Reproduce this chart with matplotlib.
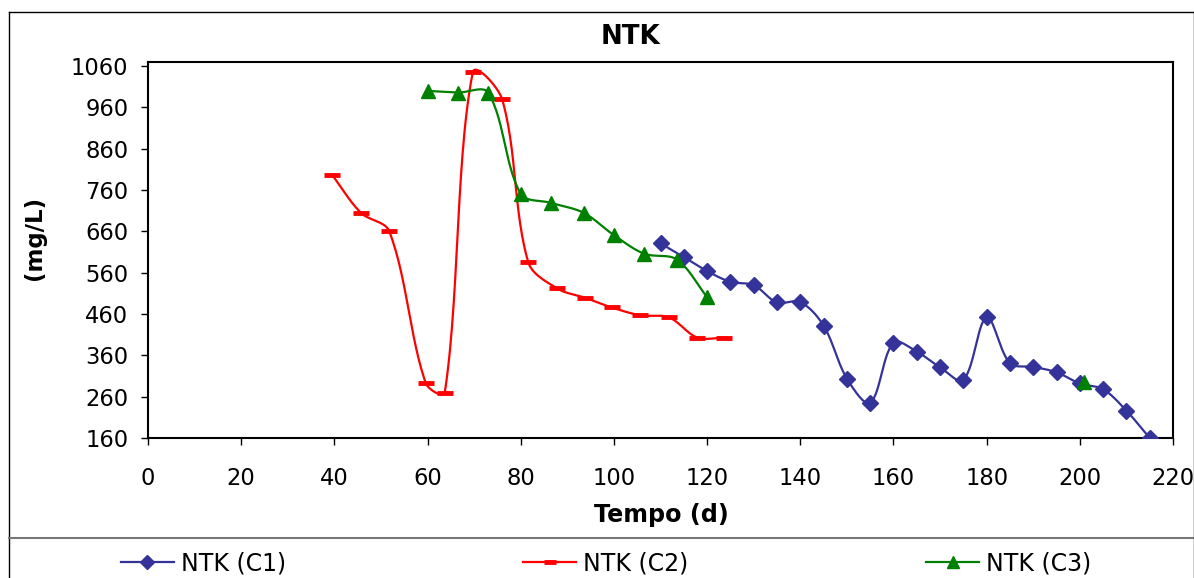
import matplotlib
matplotlib.use("Agg")
import matplotlib.pyplot as plt
from matplotlib.lines import Line2D
import numpy as np

# NTK values (day, mg/L)
c1_x = [110, 115, 120, 125, 130, 135, 140, 145, 150, 155, 160, 165, 170, 175,
        180, 185, 190, 195, 200, 205, 210, 215]
c1_y = [631, 598, 564, 538, 530, 488, 489, 432, 304, 245, 391, 369, 331, 300,
        452, 341, 332, 319, 292, 278, 226, 160]

c2_x = [39.5, 45.7, 51.8, 59.6, 63.7, 69.7, 76, 81.6, 87.8, 93.9, 99.5, 105.7,
        111.8, 117.9, 123.7]
c2_y = [797, 705, 660, 293, 270, 1045, 980, 586, 522, 499, 476, 457, 452, 403, 403]

# C3 has a gap (no line) between day 120 and day 201
c3_x = [60, 66.5, 73, 80, 86.5, 93.5, 100, 106.5, 113.5, 120, 160, 201]
c3_y = [1000, 996, 996, 751, 729, 705, 651, 606, 592, 501, np.nan, 295]

y_ticks = [160, 260, 360, 460, 560, 660, 760, 860, 960, 1060]
x_ticks = list(range(0, 221, 20))

W, H = 1194, 578
X0, X1, Y0, Y1 = 148, 1173, 62, 438   # plot area in pixels
XMAX, YMIN, YMAX = 220, 160, 1070
SX = (X1 - X0) / XMAX
SY = (Y1 - Y0) / (YMAX - YMIN)


def smooth(x, y, n=30):
    # Bezier smoothing like Excel: tangents scaled by chord lengths (in pixels)
    p = np.column_stack([np.asarray(x, float) * SX, np.asarray(y, float) * SY])
    m = len(p)
    if m < 2:
        return p[:, 0] / SX, p[:, 1] / SY
    ext = np.vstack([p[0], p, p[-1]])
    L = np.linalg.norm(np.diff(ext, axis=0), axis=1)   # len m+1
    T = ext[2:] - ext[:-2]                               # tangent per point
    t = np.linspace(0, 1, n)[:, None]
    out = []
    for i in range(m - 1):
        a, b = p[i], p[i + 1]
        la, lb, lc = L[i], L[i + 1], L[i + 2]
        c1 = a + T[i] * lb / (la + lb) / 3.0
        c2 = b - T[i + 1] * lb / (lb + lc) / 3.0
        seg = ((1 - t) ** 3) * a + 3 * ((1 - t) ** 2) * t * c1 + 3 * (1 - t) * t ** 2 * c2 + t ** 3 * b
        out.append(seg if i == 0 else seg[1:])
    out = np.vstack(out)
    return out[:, 0] / SX, out[:, 1] / SY


def draw(ax, x, y, color, marker, ms, mew=1):
    x = np.asarray(x, float)
    y = np.asarray(y, float)
    ok = ~np.isnan(y)
    runs, cur = [], []
    for i in range(len(x)):
        if ok[i]:
            cur.append(i)
        elif cur:
            runs.append(cur)
            cur = []
    if cur:
        runs.append(cur)
    for r in runs:
        sx, sy = smooth(x[r], y[r] - YMIN)
        ax.plot(sx, sy + YMIN, color=color, lw=1.6, zorder=2)
    ax.plot(x[ok], y[ok], ls='none', marker=marker, ms=ms, color=color,
            mec=color, mew=mew, zorder=3)


plt.rcParams['font.family'] = ['DejaVu Sans']
fig = plt.figure(figsize=(11.94, 5.78), dpi=100)
ax = fig.add_axes([X0 / W, 1 - Y1 / H, (X1 - X0) / W, (Y1 - Y0) / H])

draw(ax, c1_x, c1_y, '#333399', 'D', 8.5)
draw(ax, c2_x, c2_y, '#FF0000', '_', 11, mew=3.5)
draw(ax, c3_x, c3_y, '#008000', '^', 10)

ax.set_xlim(0, XMAX)
ax.set_ylim(YMIN, YMAX)
ax.set_xticks(x_ticks)
ax.set_yticks(y_ticks)
ax.tick_params(labelsize=16.3, length=5, width=1, direction='out')
ax.tick_params(axis='x', pad=16)
ax.tick_params(axis='y', pad=9)
for s in ax.spines.values():
    s.set_linewidth(1.5)
    s.set_color('black')

fig.text(630.5 / W, 1 - 37 / H, 'NTK', ha='center', va='center',
         fontsize=18.8, fontweight='bold')
fig.text(661 / W, 1 - 515 / H, 'Tempo (d)', ha='center', va='center',
         fontsize=17.2, fontweight='bold')
fig.text(34 / W, 1 - 238 / H, '(mg/L)', ha='center', va='center',
         rotation=90, fontsize=16.5, fontweight='bold')

# outer chart border and legend separator
fig.add_artist(Line2D([9 / W, 9 / W], [0, 1 - 12 / H], transform=fig.transFigure,
                      color='black', lw=1))
fig.add_artist(Line2D([9 / W, 1], [1 - 12 / H, 1 - 12 / H], transform=fig.transFigure,
                      color='black', lw=1))
fig.add_artist(Line2D([1193.5 / W, 1193.5 / W], [0, 1 - 12 / H], transform=fig.transFigure,
                      color='black', lw=1))
fig.add_artist(Line2D([9 / W, 1], [1 - 538 / H, 1 - 538 / H], transform=fig.transFigure,
                      color='#777777', lw=1.5))

handles = [
    Line2D([], [], color='#333399', lw=1.6, marker='D', ms=7),
    Line2D([], [], color='#FF0000', lw=1.6, marker='_', ms=9, mew=3.5),
    Line2D([], [], color='#008000', lw=1.6, marker='^', ms=8),
]
fig.legend(handles, ['NTK (C1)', 'NTK (C2)', 'NTK (C3)'], loc='center',
           bbox_to_anchor=(606 / W, 1 - 563 / H), ncol=3, frameon=False,
           fontsize=17, handlelength=2.25, handletextpad=0.3,
           columnspacing=10.05, borderpad=0)

fig.savefig('out.png', dpi=100)
